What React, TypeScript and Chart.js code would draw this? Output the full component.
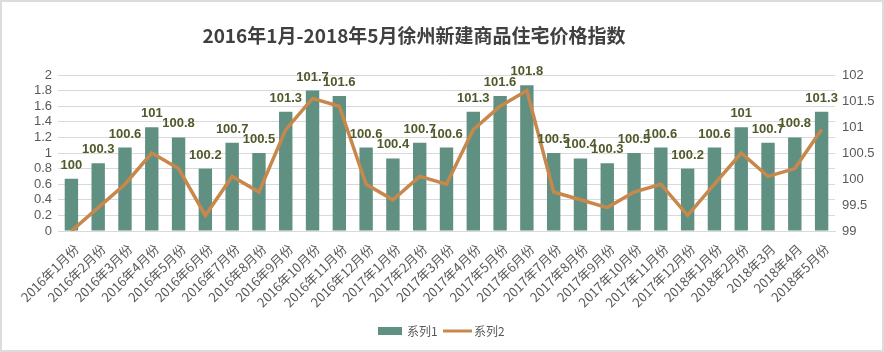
import React, { useEffect, useRef } from "react";
import { Chart, registerables } from "chart.js";

Chart.register(...registerables);

const categories: string[] = [
  "2016年1月份", "2016年2月份", "2016年3月份", "2016年4月份", "2016年5月份", "2016年6月份",
  "2016年7月份", "2016年8月份", "2016年9月份", "2016年10月份", "2016年11月份", "2016年12月份",
  "2017年1月份", "2017年2月份", "2017年3月份", "2017年4月份", "2017年5月份", "2017年6月份",
  "2017年7月份", "2017年8月份", "2017年9月份", "2017年10月份", "2017年11月份", "2017年12月份",
  "2018年1月份", "2018年2月份", "2018年3月", "2018年4月", "2018年5月份",
];

// 系列1 bar heights on the left axis (0 - 2)
const series1: number[] = [
  0.67, 0.87, 1.07, 1.33, 1.2, 0.8, 1.13, 1.0, 1.53, 1.8, 1.73, 1.07,
  0.93, 1.13, 1.07, 1.53, 1.73, 1.87, 1.0, 0.93, 0.87, 1.0, 1.07, 0.8,
  1.07, 1.33, 1.13, 1.2, 1.53,
];

// 系列2 line values on the right axis (99 - 102)
const series2: number[] = [
  99.0, 99.45, 99.9, 100.5, 100.2, 99.3, 100.05, 99.75, 100.95, 101.55, 101.4, 99.9,
  99.6, 100.05, 99.9, 100.95, 101.4, 101.7, 99.75, 99.6, 99.45, 99.75, 99.9, 99.3,
  99.9, 100.5, 100.05, 100.2, 100.95,
];

// index value labels shown above the bars
const indexLabels: string[] = [
  "100", "100.3", "100.6", "101", "100.8", "100.2", "100.7", "100.5", "101.3", "101.7", "101.6", "100.6",
  "100.4", "100.7", "100.6", "101.3", "101.6", "101.8", "100.5", "100.4", "100.3", "100.5", "100.6", "100.2",
  "100.6", "101", "100.7", "100.8", "101.3",
];

const title = "2016年1月-2018年5月徐州新建商品住宅价格指数";
const seriesNames: string[] = ["系列1", "系列2"];

const BAR_COLOR = "#5F9081";
const LINE_COLOR = "#C8884C";
const TEXT_GRAY = "#595959";
const LABEL_COLOR = "#4F5A2A";
const CJK = "'Noto Sans CJK SC', 'Noto Sans', sans-serif";
const LATIN = "'Liberation Sans', Arial, sans-serif";

const fmt = (v: number | string) => String(Math.round(Number(v) * 10) / 10);

const decorPlugin = {
  id: "decor",
  beforeDraw(chart: any) {
    const { ctx, width, height } = chart;
    ctx.save();
    ctx.fillStyle = "#ffffff";
    ctx.fillRect(0, 0, width, height);
    ctx.restore();
  },
  afterDatasetsDraw(chart: any) {
    const { ctx } = chart;
    const meta = chart.getDatasetMeta(0);
    ctx.save();
    ctx.font = `bold 13px ${LATIN}`;
    ctx.fillStyle = LABEL_COLOR;
    ctx.textAlign = "center";
    ctx.textBaseline = "alphabetic";
    meta.data.forEach((bar: any, i: number) => {
      ctx.fillText(indexLabels[i], bar.x, bar.y - 10);
    });
    ctx.restore();
  },
  afterDraw(chart: any) {
    const { ctx, width, height } = chart;
    ctx.save();
    // title
    ctx.font = `bold 19px ${CJK}`;
    ctx.fillStyle = "#404040";
    ctx.textAlign = "center";
    ctx.textBaseline = "middle";
    ctx.fillText(title, 414, 36);
    // legend
    ctx.font = `12px ${CJK}`;
    ctx.fillStyle = BAR_COLOR;
    ctx.fillRect(378, 327, 24, 8);
    ctx.fillStyle = TEXT_GRAY;
    ctx.textAlign = "left";
    ctx.fillText(seriesNames[0], 407, 331);
    ctx.strokeStyle = LINE_COLOR;
    ctx.lineWidth = 3;
    ctx.beginPath();
    ctx.moveTo(443, 331);
    ctx.lineTo(472, 331);
    ctx.stroke();
    ctx.fillText(seriesNames[1], 474, 331);
    // border
    ctx.strokeStyle = "#dcdcdc";
    ctx.lineWidth = 2;
    ctx.strokeRect(1, 1, width - 2, height - 2);
    ctx.restore();
  },
};

export default function App() {
  const ref = useRef<HTMLCanvasElement | null>(null);
  useEffect(() => {
    if (!ref.current) return;
    const chart = new Chart(ref.current, {
      type: "bar",
      data: {
        labels: categories,
        datasets: [
          {
            type: "bar",
            label: seriesNames[0],
            data: series1,
            backgroundColor: BAR_COLOR,
            yAxisID: "y",
            barPercentage: 0.5,
            categoryPercentage: 1,
            order: 2,
          },
          {
            type: "line",
            label: seriesNames[1],
            data: series2,
            borderColor: LINE_COLOR,
            borderWidth: 3.5,
            pointRadius: 0,
            tension: 0,
            yAxisID: "y1",
            order: 1,
          },
        ] as any,
      },
      options: {
        animation: false,
        responsive: false,
        layout: { padding: { top: 75, left: 0, right: 0, bottom: 0 } },
        plugins: {
          legend: { display: false },
          title: { display: false },
          tooltip: { enabled: false },
        },
        scales: {
          x: {
            grid: { display: false, drawTicks: false },
            border: { color: "#d9d9d9" },
            ticks: {
              autoSkip: false,
              maxRotation: 45,
              minRotation: 45,
              padding: 10,
              labelOffset: 5,
              color: TEXT_GRAY,
              font: { size: 13, family: CJK },
            },
            afterFit: (s: any) => {
              s.height = 121;
            },
          },
          y: {
            position: "left",
            min: 0,
            max: 2,
            grid: { color: "#d9d9d9", drawTicks: false },
            border: { display: false },
            ticks: {
              autoSkip: false,
              stepSize: 0.2,
              padding: 6,
              color: TEXT_GRAY,
              font: { size: 13, family: LATIN },
              callback: (v: any) => fmt(v),
            },
            afterFit: (s: any) => {
              s.width = 58;
            },
          },
          y1: {
            position: "right",
            min: 99,
            max: 102,
            grid: { drawOnChartArea: false, drawTicks: false },
            border: { display: false },
            ticks: {
              autoSkip: false,
              stepSize: 0.5,
              padding: 7,
              color: TEXT_GRAY,
              font: { size: 13, family: LATIN },
              callback: (v: any) => fmt(v),
            },
            afterFit: (s: any) => {
              s.width = 49;
            },
          },
        },
      } as any,
      plugins: [decorPlugin],
    });
    return () => chart.destroy();
  }, []);
  return (
    <div style={{ position: "absolute", left: 0, top: 0, width: 884, height: 352 }}>
      <canvas ref={ref} width={884} height={352} style={{ display: "block", width: 884, height: 352 }} />
    </div>
  );
}
